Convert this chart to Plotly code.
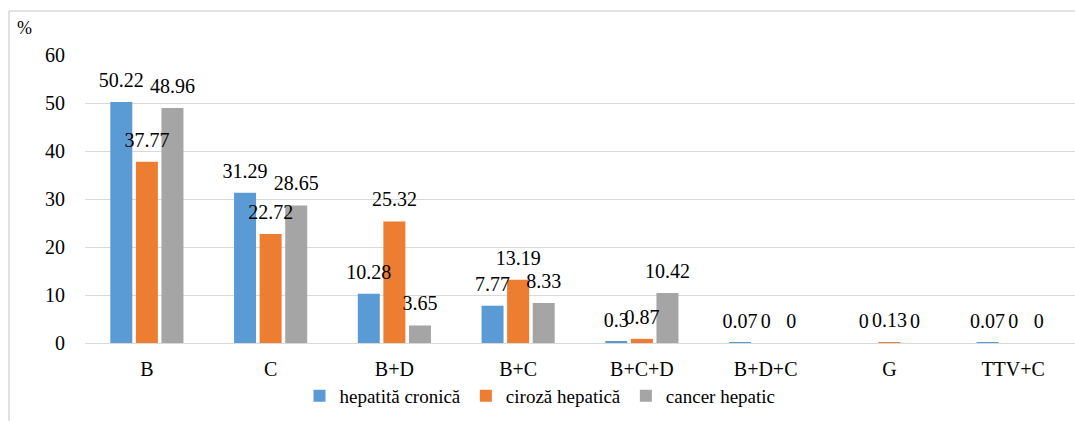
import plotly.graph_objects as go

categories = ["B", "C", "B+D", "B+C", "B+C+D", "B+D+C", "G", "TTV+C"]
hepatita_cronica = [50.22, 31.29, 10.28, 7.77, 0.3, 0.07, 0, 0.07]
ciroza_hepatica = [37.77, 22.72, 25.32, 13.19, 0.87, 0, 0.13, 0]
cancer_hepatic = [48.96, 28.65, 3.65, 8.33, 10.42, 0, 0, 0]
series_names = ["hepatită cronică", "ciroză hepatică", "cancer hepatic"]
colors = ["#5B9BD5", "#ED7D31", "#A5A5A5"]
y_ticks = [0, 10, 20, 30, 40, 50, 60]

FONT = "Liberation Serif"
W, H = 1075, 421
ML, MR, MT, MB = 85, 0, 55, 78
plot_h = H - MT - MB
y_max = 60
label_lift_px = 8
lift = label_lift_px * y_max / plot_h

fig = go.Figure()
all_series = [hepatita_cronica, ciroza_hepatica, cancer_hepatic]
for name, vals, col in zip(series_names, all_series, colors):
    fig.add_trace(go.Bar(
        x=categories, y=vals, name=name, marker=dict(color=col, line=dict(width=0)),
        yaxis="y", hoverinfo="skip",
    ))
# data labels (same bars, drawn transparent on a slightly shifted overlay axis)
for name, vals, col in zip(series_names, all_series, colors):
    fig.add_trace(go.Bar(
        x=categories, y=vals, name=name, showlegend=False,
        marker=dict(color="rgba(0,0,0,0)", line=dict(width=0)),
        text=[f"{v:g}" for v in vals], textposition="outside",
        outsidetextfont=dict(family=FONT, size=20, color="#000000"),
        constraintext="none", cliponaxis=False, yaxis="y2", hoverinfo="skip",
    ))

fig.update_layout(
    width=W, height=H, autosize=False,
    margin=dict(l=ML, r=MR, t=MT, b=MB, autoexpand=False),
    paper_bgcolor="white", plot_bgcolor="white",
    font=dict(family=FONT, size=20, color="#000000"),
    barmode="group", bargap=0.38, bargroupgap=0.14,
    xaxis=dict(showgrid=False, showline=False, zeroline=False, automargin=False,
               ticks="outside", ticklen=8, tickcolor="rgba(0,0,0,0)",
               tickfont=dict(family=FONT, size=20, color="#000000")),
    yaxis=dict(range=[0, y_max], tickvals=y_ticks, showgrid=True, gridcolor="#D9D9D9",
               gridwidth=1, zeroline=True, zerolinecolor="#D9D9D9", zerolinewidth=1,
               showline=False, ticks="outside", ticklen=15, tickcolor="rgba(0,0,0,0)",
               automargin=False,
               tickfont=dict(family=FONT, size=20, color="#000000")),
    yaxis2=dict(range=[-lift, y_max - lift], overlaying="y", visible=False, fixedrange=True,
                automargin=False),
    legend=dict(orientation="h", xref="container", yref="container",
                x=540 / W, y=1 - 396 / H, xanchor="center", yanchor="middle",
                font=dict(family=FONT, size=19, color="#000000"),
                bgcolor="rgba(0,0,0,0)", traceorder="normal"),
    annotations=[dict(text="%", xref="paper", yref="paper",
                      x=(24 - ML) / (W - ML - MR), y=(H - MB - 28) / plot_h,
                      xanchor="center", yanchor="middle", showarrow=False,
                      font=dict(family=FONT, size=18, color="#000000"))],
    shapes=[
        dict(type="line", xref="paper", yref="paper",
             x0=(9 - ML) / (W - ML - MR), x1=(9 - ML) / (W - ML - MR),
             y0=(H - MB - 11) / plot_h, y1=(H - MB - H - 5) / plot_h,
             line=dict(color="#D9D9D9", width=1.5)),
        dict(type="line", xref="paper", yref="paper",
             x0=(9 - ML) / (W - ML - MR), x1=1.01,
             y0=(H - MB - 11) / plot_h, y1=(H - MB - 11) / plot_h,
             line=dict(color="#D9D9D9", width=1.5)),
    ],
)

fig.write_html("out.html", config={"displayModeBar": False},
               post_script="document.body.style.margin='0';")
